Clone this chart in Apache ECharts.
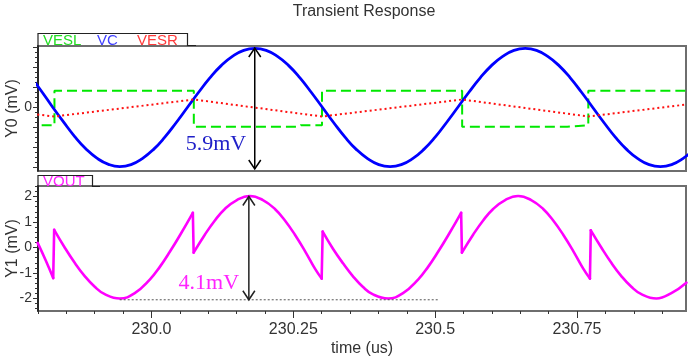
<!DOCTYPE html>
<html><head><meta charset="utf-8">
<script src="https://cdn.jsdelivr.net/npm/echarts@6/dist/echarts.min.js"></script>
<style>html,body{margin:0;padding:0;background:#fff}#c{width:697px;height:358px}</style>
</head><body><div id="c"></div>
<script>
// ---------------- data ----------------
const titleText = 'Transient Response';
const xName = 'time (us)';
const y0Name = 'Y0 (mV)';
const y1Name = 'Y1 (mV)';
const topNames = ['VESL', 'VC', 'VESR'];
const bottomNames = ['VOUT'];

const xMin = 229.8, xMax = 230.942;
const xTickValues = [230, 230.25, 230.5, 230.75];
const xTickLabels = ['230.0', '230.25', '230.5', '230.75'];
const y0Min = -3.17, y0Max = 3.07;
const y0TickValues = [0];
const y0TickLabels = ['0'];
const y1Min = -2.49, y1Max = 2.41;
const y1TickValues = [-2, -1, 0, 1, 2];
const y1TickLabels = ['-2', '-1', '0', '1', '2'];

const vcTime = [229.7853, 229.8052, 229.8250, 229.8449, 229.8647, 229.8846, 229.9044, 229.9243, 229.9441, 229.9640,
  229.9838, 230.0037, 230.0235, 230.0434, 230.0632, 230.0831, 230.1029, 230.1228, 230.1426, 230.1625,
  230.1823, 230.2021, 230.2220, 230.2418, 230.2617, 230.2815, 230.3014, 230.3212, 230.3411, 230.3609,
  230.3808, 230.4006, 230.4205, 230.4403, 230.4602, 230.4800, 230.4999, 230.5197, 230.5396, 230.5594,
  230.5793, 230.5991, 230.6190, 230.6388, 230.6587, 230.6785, 230.6983, 230.7182, 230.7380, 230.7579,
  230.7777, 230.7976, 230.8174, 230.8373, 230.8571, 230.8770, 230.8968, 230.9167, 230.9365, 230.9564];
const vcVals = [1.60, 0.85, 0.05, -0.72, -1.45, -2.07, -2.54, -2.84, -2.95, -2.85,
  -2.55, -2.09, -1.48, -0.76, 0, 0.76, 1.48, 2.09, 2.55, 2.85,
  2.95, 2.85, 2.55, 2.09, 1.48, 0.76, 0, -0.76, -1.48, -2.09,
  -2.55, -2.85, -2.95, -2.85, -2.55, -2.09, -1.48, -0.76, 0, 0.76,
  1.48, 2.09, 2.55, 2.85, 2.95, 2.85, 2.55, 2.09, 1.48, 0.76,
  0, -0.76, -1.48, -2.09, -2.55, -2.85, -2.95, -2.85, -2.55, -2.09];

const eslTime = [229.78, 229.829, 229.829, 230.0746, 230.0746, 230.2599, 230.2635, 230.3005, 230.3005,
  230.5475, 230.5475, 230.7327, 230.7362, 230.7698, 230.7698, 230.96];
const eslVals = [-0.89, -0.89, 0.84, 0.84, -0.96, -0.96, -0.88, -0.88, 0.84,
  0.84, -0.96, -0.96, -0.88, -0.88, 0.84, 0.84];

const esrTime = [229.79, 229.829, 230.0746, 230.3005, 230.5475, 230.7698, 230.9427];
const esrVals = [-0.32, -0.45, 0.40, -0.45, 0.40, -0.45, 0.15];

const voutTime = [229.7994, 229.8135, 229.8268, 229.8285, 229.8470, 229.8647, 229.8823, 229.9000, 229.9176, 229.9441,
  229.9705, 229.9970, 230.0147, 230.0323, 230.0499, 230.0729, 230.0743, 230.0940, 230.1117, 230.1293,
  230.1505, 230.1734, 230.1964, 230.2175, 230.2352, 230.2528, 230.2705, 230.2881, 230.2999, 230.3017,
  230.3198, 230.3375, 230.3551, 230.3728, 230.3904, 230.4169, 230.4433, 230.4698, 230.4875, 230.5051,
  230.5227, 230.5457, 230.5471, 230.5668, 230.5845, 230.6021, 230.6233, 230.6462, 230.6692, 230.6903,
  230.7080, 230.7256, 230.7433, 230.7609, 230.7727, 230.7742, 230.7927, 230.8104, 230.8280, 230.8457,
  230.8633, 230.8898, 230.9162, 230.9427];
const voutVals = [0.18, -0.5, -1.2, 0.69, 0.0, -0.6, -1.12, -1.54, -1.83, -2.0,
  -1.79, -1.26, -0.76, -0.17, 0.47, 1.36, -0.2, 0.5, 1.06, 1.51,
  1.86, 2.02, 1.86, 1.51, 1.06, 0.5, -0.14, -0.83, -1.22, 0.62,
  -0.05, -0.62, -1.13, -1.55, -1.84, -2.0, -1.79, -1.26, -0.76, -0.17,
  0.47, 1.36, -0.2, 0.5, 1.06, 1.51, 1.86, 2.02, 1.86, 1.51,
  1.06, 0.5, -0.14, -0.83, -1.22, 0.67, 0.0, -0.6, -1.12, -1.54,
  -1.83, -2.0, -1.79, -1.38];
// indices in voutTime where VOUT jumps (a new smooth piece starts)
const voutJumpStarts = [3, 16, 29, 42, 55];

// annotations (data coordinates)
const annTopText = '5.9mV', annTopX = 230.182, annTopHi = 2.97, annTopLo = -3.07, annTopLabelX = 230.1135, annTopLabelY = -1.83;
const annBotText = '4.1mV', annBotX = 230.1716, annBotHi = 2.0, annBotLo = -2.05, annBotLabelX = 230.1011, annBotLabelY = -1.39;
const refLineX0 = 229.944, refLineX1 = 230.507;

// ---------------- chart ----------------
const SANS = '"Liberation Sans", Arial, sans-serif';
const SERIF = '"Liberation Serif", "Times New Roman", serif';
const C_GREEN = '#00e800', C_BLUE = '#0000ff', C_RED = '#ff1010', C_MAG = '#ff00ff';

function zip(a, b) { return a.map((t, i) => [t, b[i]]); }
function labelFor(vals, labels) {
  return v => { for (let i = 0; i < vals.length; i++) if (Math.abs(vals[i] - v) < 1e-6) return labels[i]; return ''; };
}
function range(a, b, s) { const r = []; for (let v = a; v <= b + 1e-9; v += s) r.push(Math.round(v * 1000) / 1000); return r; }

const minorX = range(xMin, xMax, 0.05);
const minorY0 = range(-3, 3, 0.25);
const majorY0 = range(-3, 3, 1);
const minorY1 = range(-2.4, 2.4, 0.2);
const majorY1 = range(-2, 2, 1);

// split VOUT into smooth pieces and the straight jump strokes between them
const voutPts = zip(voutTime, voutVals);
const voutPieces = [];
let startIdx = 0;
voutJumpStarts.concat([voutPts.length]).forEach(end => { voutPieces.push(voutPts.slice(startIdx, end)); startIdx = end; });
const voutJumps = [];
voutJumpStarts.forEach(j => { voutJumps.push(voutPts[j - 1], voutPts[j], null); });

const chart = echarts.init(document.getElementById('c'));
const axisLabelStyle = { color: '#333', fontFamily: SANS };

const gridBase = { left: 38, right: 11, height: 125, show: true, borderColor: '#6e6e6e', borderWidth: 2,
  backgroundColor: '#fff', containLabel: false, outerBoundsMode: 'none' };

const voutStyle = { color: C_MAG, width: 2.6, join: 'round', cap: 'round' };
const voutSeries = voutPieces.map(p => ({
  name: bottomNames[0], type: 'line', xAxisIndex: 1, yAxisIndex: 2, data: p, showSymbol: false, smooth: 0.45,
  lineStyle: voutStyle, z: 3
})).concat([{
  name: bottomNames[0], type: 'line', xAxisIndex: 1, yAxisIndex: 2, data: voutJumps, showSymbol: false,
  connectNulls: false, lineStyle: voutStyle, z: 3
}]);

const option = {
  animation: false,
  backgroundColor: '#fff',
  grid: [
    Object.assign({ top: 46 }, gridBase),
    Object.assign({ top: 186 }, gridBase)
  ],
  xAxis: [
    { gridIndex: 0, type: 'value', min: xMin, max: xMax, show: false },
    { gridIndex: 1, type: 'value', min: xMin, max: xMax, position: 'bottom',
      axisLine: { show: false, onZero: false },
      axisTick: { show: true, length: 3, customValues: minorX, lineStyle: { color: '#333' } },
      axisLabel: { show: false }, splitLine: { show: false },
      name: xName, nameLocation: 'middle', nameGap: 30, nameMoveOverlap: false,
      nameTextStyle: { fontSize: 16, color: '#333', fontFamily: SANS } },
    { gridIndex: 1, type: 'value', min: xMin, max: xMax, position: 'bottom',
      axisLine: { show: false, onZero: false },
      axisTick: { show: true, length: 7, customValues: xTickValues, lineStyle: { color: '#333' } },
      axisLabel: Object.assign({ customValues: xTickValues, formatter: labelFor(xTickValues, xTickLabels), fontSize: 16, margin: 11 }, axisLabelStyle),
      splitLine: { show: false } }
  ],
  yAxis: [
    { gridIndex: 0, type: 'value', min: y0Min, max: y0Max, position: 'left',
      axisLine: { show: true, onZero: false, lineStyle: { color: '#111', width: 1.5 } },
      axisTick: { show: true, length: 3, customValues: minorY0, lineStyle: { color: '#333' } },
      axisLabel: { show: false }, splitLine: { show: false } },
    { gridIndex: 0, type: 'value', min: y0Min, max: y0Max, position: 'left',
      axisLine: { show: false, onZero: false },
      axisTick: { show: true, length: 5, customValues: majorY0, lineStyle: { color: '#333' } },
      axisLabel: Object.assign({ customValues: y0TickValues, formatter: labelFor(y0TickValues, y0TickLabels), fontSize: 14, margin: 6 }, axisLabelStyle),
      splitLine: { show: false },
      name: y0Name, nameLocation: 'middle', nameRotate: 90, nameGap: 17, nameMoveOverlap: false,
      nameTextStyle: { fontSize: 16, color: '#333', fontFamily: SANS } },
    { gridIndex: 1, type: 'value', min: y1Min, max: y1Max, position: 'left',
      axisLine: { show: true, onZero: false, lineStyle: { color: '#111', width: 1.5 } },
      axisTick: { show: true, length: 3, customValues: minorY1, lineStyle: { color: '#333' } },
      axisLabel: { show: false }, splitLine: { show: false } },
    { gridIndex: 1, type: 'value', min: y1Min, max: y1Max, position: 'left',
      axisLine: { show: false, onZero: false },
      axisTick: { show: true, length: 5, customValues: majorY1, lineStyle: { color: '#333' } },
      axisLabel: Object.assign({ customValues: y1TickValues, formatter: labelFor(y1TickValues, y1TickLabels), fontSize: 14, margin: 6 }, axisLabelStyle),
      splitLine: { show: false },
      name: y1Name, nameLocation: 'middle', nameRotate: 90, nameGap: 17, nameMoveOverlap: false,
      nameTextStyle: { fontSize: 16, color: '#333', fontFamily: SANS } }
  ],
  series: [
    { name: topNames[0], type: 'line', xAxisIndex: 0, yAxisIndex: 0, data: zip(eslTime, eslVals), showSymbol: false,
      lineStyle: { color: C_GREEN, width: 2, type: [10, 5] }, z: 2 },
    { name: topNames[1], type: 'line', xAxisIndex: 0, yAxisIndex: 0, data: zip(vcTime, vcVals), showSymbol: false, smooth: 0.5,
      lineStyle: { color: C_BLUE, width: 2.8 }, z: 3 },
    { name: topNames[2], type: 'line', xAxisIndex: 0, yAxisIndex: 0, data: zip(esrTime, esrVals), showSymbol: false,
      lineStyle: { color: C_RED, width: 2, type: [2, 3] }, z: 4 }
  ].concat(voutSeries)
};
chart.setOption(option);

const VOUT_SI = 3;
const P = (si, x, y) => chart.convertToPixel({ seriesIndex: si }, [x, y]);
function arrowEls(a, b, color) {
  const st = { stroke: color, lineWidth: 1.5, fill: null };
  return [
    { type: 'line', z: 100, shape: { x1: a[0], y1: a[1], x2: b[0], y2: b[1] }, style: st },
    { type: 'polyline', z: 100, shape: { points: [[a[0] - 6, a[1] + 9], [a[0], a[1]], [a[0] + 6, a[1] + 9]] }, style: st },
    { type: 'polyline', z: 100, shape: { points: [[b[0] - 6, b[1] - 9], [b[0], b[1]], [b[0] + 6, b[1] - 9]] }, style: st }
  ];
}
const tA = P(1, annTopX, annTopHi), tB = P(1, annTopX, annTopLo);
const bA = P(VOUT_SI, annBotX, annBotHi), bB = P(VOUT_SI, annBotX, annBotLo);
const r0 = P(VOUT_SI, refLineX0, annBotLo), r1 = P(VOUT_SI, refLineX1, annBotLo);
const tL = P(1, annTopLabelX, annTopLabelY), bL = P(VOUT_SI, annBotLabelX, annBotLabelY);

const legendFont = '15px ' + SANS;
const graphic = [
  { type: 'text', x: 364, y: 12, z: 100, style: { text: titleText, font: '16px ' + SANS, fill: '#333', align: 'center', verticalAlign: 'middle' } },
  { type: 'polyline', z: 100, shape: { points: [[38, 47], [38, 33.5], [187.5, 33.5], [187.5, 45.5], [196, 45.5]] }, style: { stroke: '#222', lineWidth: 1.2, fill: null } },
  { type: 'polyline', z: 100, shape: { points: [[38, 187], [38, 175.5], [92.5, 175.5], [92.5, 186.5], [100, 186.5]] }, style: { stroke: '#222', lineWidth: 1.2, fill: null } },
  { type: 'text', x: 43, y: 40.5, z: 100, style: { text: topNames[0], font: legendFont, fill: '#22dd22', verticalAlign: 'middle' } },
  { type: 'text', x: 97, y: 40.5, z: 100, style: { text: topNames[1], font: legendFont, fill: '#4040ff', verticalAlign: 'middle' } },
  { type: 'text', x: 137, y: 40.5, z: 100, style: { text: topNames[2], font: legendFont, fill: '#ff3a3a', verticalAlign: 'middle' } },
  { type: 'text', x: 43, y: 181.5, z: 100, style: { text: bottomNames[0], font: legendFont, fill: '#ff22ff', verticalAlign: 'middle' } },
  { type: 'line', z: 90, shape: { x1: r0[0], y1: r0[1], x2: r1[0], y2: r1[1] }, style: { stroke: '#555', lineWidth: 1, lineDash: [2, 2] } },
  { type: 'text', x: tL[0], y: tL[1], z: 100, style: { text: annTopText, font: '22px ' + SERIF, fill: '#2020c8', align: 'center', verticalAlign: 'middle' } },
  { type: 'text', x: bL[0], y: bL[1], z: 100, style: { text: annBotText, font: '22px ' + SERIF, fill: '#ff22ff', align: 'center', verticalAlign: 'middle' } }
].concat(arrowEls(tA, tB, '#000'), arrowEls(bA, bB, '#222'));
chart.setOption({ graphic: graphic });
</script>
</body></html>
